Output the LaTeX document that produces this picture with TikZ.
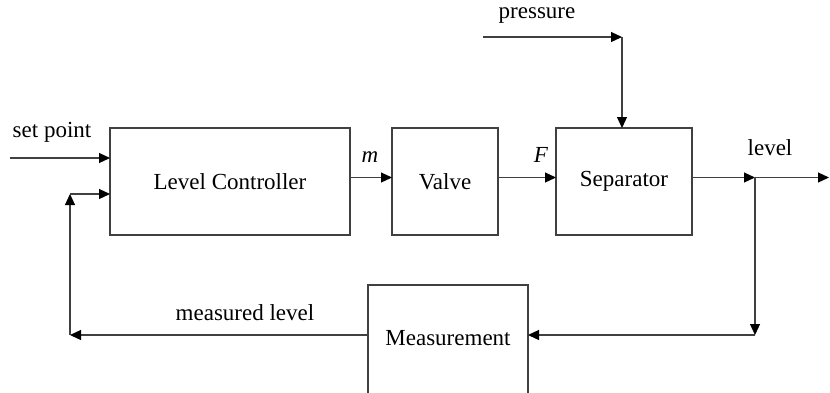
\documentclass[tikz,border=0pt]{standalone}
\usepackage{fontspec}
\setmainfont{Liberation Serif}
\usetikzlibrary{arrows.meta}

\begin{document}
\begin{tikzpicture}[
  x=0.5pt,
  y=-0.5pt,
  linegray/.style={draw=black!75, line width=0.6pt},
  block/.style={
    linegray,
    rectangle,
    inner sep=0pt,
    outer sep=0pt,
    font=\fontsize{11.5}{14}\selectfont
  },
  signal/.style={
    linegray,
    -{Triangle[length=5.5pt,width=5pt,color=black]}
  },
  labeltext/.style={font=\fontsize{11.5}{14}\selectfont},
  vartext/.style={font=\itshape\fontsize{11.5}{14}\selectfont}
]

% Canvas
\path[use as bounding box] (0,0) rectangle (830,392);

% Blocks
\node[block, minimum width=120pt, minimum height=53.5pt] (lc) at (230,181.5)
  {Level Controller};
\node[block, minimum width=53pt, minimum height=53.5pt] (valve) at (445,181.5)
  {Valve};
\node[block, minimum width=68pt, minimum height=53.5pt] (sep) at (624,181.5)
  {Separator};
% runs off the bottom of the page
\node[block, minimum width=80pt, minimum height=65pt, text depth=12pt] (meas)
  at (448,350) {Measurement};

% Free ends and corners
\coordinate (sp) at (10,158);
\coordinate (pin) at (483,37);
\coordinate (ptop) at (622,37);
\coordinate (split) at (755,177.5);
\coordinate (out) at (829,177.5);
\coordinate (fb) at (70,335);
\coordinate (turn) at (split |- fb);
\coordinate (fbtop) at (70,194);

% Forward path
\draw[signal] (sp) -- (sp -| lc.west);
\draw[signal] ([yshift=2pt]lc.east) -- ([yshift=2pt]valve.west);
\draw[signal] ([yshift=2pt]valve.east) -- ([yshift=2pt]sep.west);
\draw[signal] ([yshift=2pt]sep.east) -- (split);
\draw[signal] (split) -- (out);

% Disturbance
\draw[signal] (pin) -- (ptop);
\draw[signal] (ptop) -- (ptop |- sep.north);

% Feedback path
\draw[signal] (split) -- (turn);
\draw[signal] (turn) -- (meas.east |- fb);
\draw[signal] (meas.west |- fb) -- (fb);
\draw[signal] (fb) -- (fbtop);
\draw[signal] (fbtop) -- (fbtop -| lc.west);

% Labels
\node[labeltext] (splabel) at (52,132) {set point};
\node[vartext] (mlabel) at (370,157) {m};
\node[vartext] (flabel) at (541,155) {F};
\node[labeltext] (levellabel) at (770,148) {level};
\node[labeltext] (plabel) at (537,16) {pressure};
\node[labeltext] (mllabel) at (245,313) {measured level};

\end{tikzpicture}
\end{document}
